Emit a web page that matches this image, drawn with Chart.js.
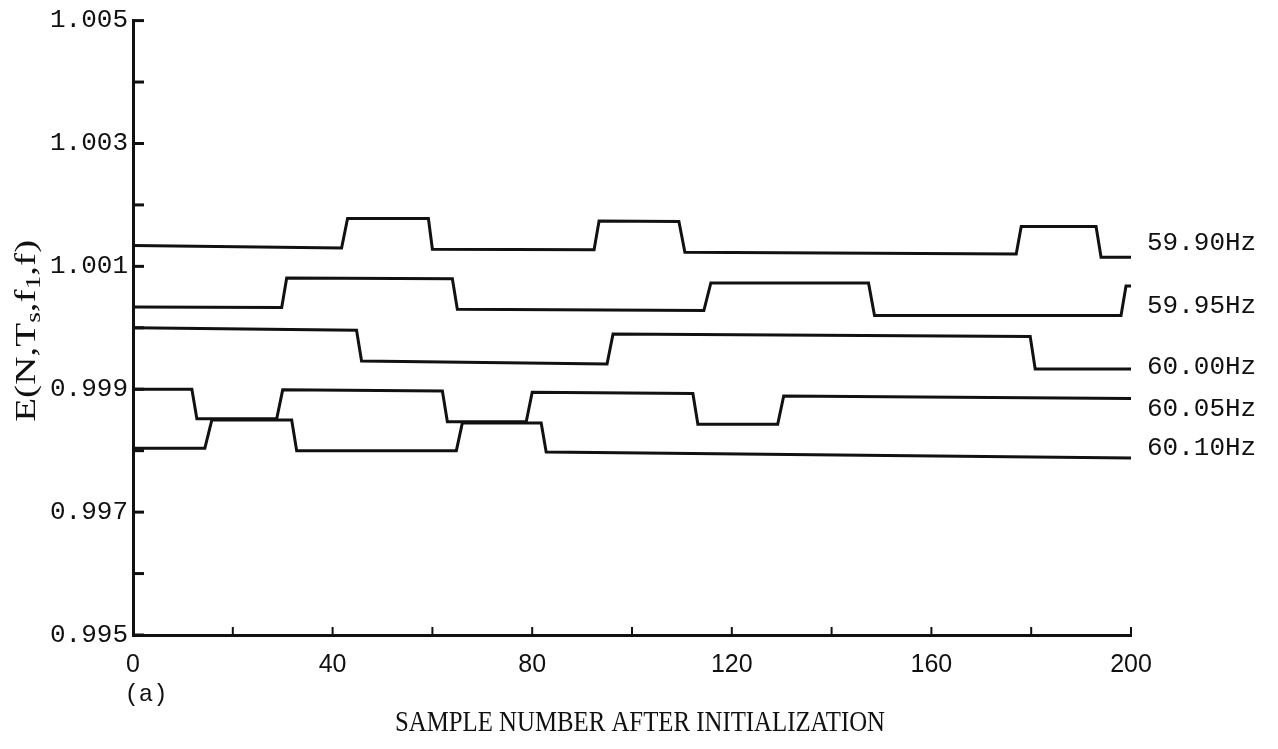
<!DOCTYPE html>
<html>
<head>
<meta charset="utf-8">
<script src="https://cdn.jsdelivr.net/npm/chart.js@4"></script>
<style>
  html, body { margin: 0; padding: 0; background: #fff; }
  #wrap { width: 1278px; height: 749px; }
</style>
</head>
<body>
<div id="wrap"><canvas id="errChart" width="1278" height="749"></canvas></div>
<script>
// sample numbers (x) and E values (y), corner by corner
var f5990X = [0, 41.8, 43, 59.2, 60, 92.4, 93.4, 109.4, 110.6, 177, 178, 193, 194, 200];
var f5990Y = [1.00134, 1.00130, 1.00178, 1.00178, 1.00128, 1.00127, 1.00174, 1.00173, 1.00123, 1.00120, 1.00165, 1.00165, 1.00115, 1.00115];

var f5995X = [0, 29.8, 30.8, 64, 65, 114.4, 115.8, 147.4, 148.6, 198, 199, 200];
var f5995Y = [1.00034, 1.00033, 1.00081, 1.00080, 1.00030, 1.00028, 1.00073, 1.00073, 1.00020, 1.00020, 1.00068, 1.00068];

var f6000X = [0, 44.8, 45.8, 95, 96.2, 179.8, 180.8, 200];
var f6000Y = [1.00000, 0.99996, 0.99946, 0.99941, 0.99990, 0.99986, 0.99933, 0.99933];

var f6005X = [0, 11.8, 12.8, 28.8, 30, 62, 63, 78.8, 80, 112.2, 113.2, 129.2, 130.4, 200];
var f6005Y = [0.99900, 0.99900, 0.99852, 0.99852, 0.99899, 0.99897, 0.99847, 0.99847, 0.99895, 0.99893, 0.99843, 0.99843, 0.99889, 0.99885];

var f6010X = [0, 14.4, 15.8, 31.8, 32.8, 64.8, 66, 81.8, 82.8, 200];
var f6010Y = [0.99804, 0.99804, 0.99850, 0.99850, 0.99800, 0.99800, 0.99845, 0.99845, 0.99798, 0.99788];

var seriesNames = ['59.90Hz', '59.95Hz', '60.00Hz', '60.05Hz', '60.10Hz'];
// where each name sits on the value axis, at the right end
var nameAt = [1.00138, 1.00036, 0.99936, 0.99867, 0.99804];

var yTickStep = 0.001;
var xTickStep = 20;

function pts(xs, ys) {
  return xs.map(function (x, i) { return { x: x, y: ys[i] }; });
}

function lineSet(name, xs, ys) {
  return {
    label: name,
    data: pts(xs, ys),
    borderColor: '#111',
    borderWidth: 3,
    pointRadius: 0,
    tension: 0,
    fill: false
  };
}

var ink = '#111';
var monoFont = '"Liberation Mono", "DejaVu Sans Mono", monospace';
var serifFont = '"Liberation Serif", "DejaVu Serif", serif';

// draw text squeezed/stretched to a given width
function fitText(ctx, txt, x, y, w) {
  var tw = ctx.measureText(txt).width;
  ctx.save();
  ctx.translate(x, y);
  ctx.scale(w / tw, 1);
  ctx.textAlign = 'center';
  ctx.fillText(txt, 0, 0);
  ctx.restore();
}

var extras = {
  id: 'extras',
  afterDraw: function (chart) {
    var ctx = chart.ctx;
    var xs = chart.scales.x, ys = chart.scales.y;
    var area = chart.chartArea;
    ctx.save();
    ctx.strokeStyle = ink;
    ctx.lineWidth = 3;

    // inward tick marks
    ys.ticks.forEach(function (t) {
      var py = ys.getPixelForValue(t.value);
      ctx.beginPath();
      ctx.moveTo(area.left, py);
      ctx.lineTo(area.left + 11, py);
      ctx.stroke();
    });
    ctx.lineWidth = 2;
    xs.ticks.forEach(function (t) {
      if (t.value === 0) return;
      var px = xs.getPixelForValue(t.value);
      ctx.beginPath();
      ctx.moveTo(px, area.bottom);
      ctx.lineTo(px, area.bottom - 8);
      ctx.stroke();
    });

    // series names at the right end
    ctx.fillStyle = ink;
    ctx.font = '26px ' + monoFont;
    ctx.textAlign = 'left';
    ctx.textBaseline = 'middle';
    seriesNames.forEach(function (n, i) {
      ctx.fillText(n, xs.getPixelForValue(200) + 16, ys.getPixelForValue(nameAt[i]));
    });

    // panel tag
    ctx.font = '24px ' + monoFont;
    ctx.textAlign = 'center';
    ctx.fillText('(a)', xs.getPixelForValue(0) + 13, 695);

    // x title
    ctx.font = '29px ' + serifFont;
    fitText(ctx, 'SAMPLE NUMBER AFTER INITIALIZATION', 640, 723, 490);

    // y title with subscripts, rotated
    ctx.translate(27, (area.top + area.bottom) / 2 + 3);
    ctx.rotate(-Math.PI / 2);
    var parts = [['E(N,T', 0], ['s', 1], [',f', 0], ['1', 1], [',f)', 0]];
    var big = '30px ' + serifFont, small = '21px ' + serifFont;
    var total = 0;
    parts.forEach(function (p) {
      ctx.font = p[1] ? small : big;
      total += ctx.measureText(p[0]).width;
    });
    var k = 182 / total;
    ctx.scale(k, 1);
    var cx = -total / 2;
    ctx.textAlign = 'left';
    parts.forEach(function (p) {
      ctx.font = p[1] ? small : big;
      ctx.fillText(p[0], cx, p[1] ? 7 : 0);
      cx += ctx.measureText(p[0]).width;
    });
    ctx.restore();
  }
};

var errChart = new Chart(document.getElementById('errChart'), {
  type: 'line',
  data: {
    datasets: [
      lineSet(seriesNames[0], f5990X, f5990Y),
      lineSet(seriesNames[1], f5995X, f5995Y),
      lineSet(seriesNames[2], f6000X, f6000Y),
      lineSet(seriesNames[3], f6005X, f6005Y),
      lineSet(seriesNames[4], f6010X, f6010Y)
    ]
  },
  options: {
    responsive: false,
    animation: false,
    layout: { padding: { left: 0, right: 147, top: 15, bottom: 0 } },
    plugins: {
      legend: { display: false },
      tooltip: { enabled: false }
    },
    scales: {
      x: {
        type: 'linear',
        min: 0,
        max: 200,
        grid: { display: false, drawTicks: false },
        border: { display: true, color: ink, width: 3 },
        ticks: {
          stepSize: xTickStep,
          autoSkip: false,
          maxRotation: 0,
          padding: 15,
          color: ink,
          font: { family: '"Liberation Sans Narrow", "Liberation Sans", sans-serif', size: 25 },
          callback: function (v) { return v % 40 === 0 ? String(v) : ''; }
        },
        afterFit: function (s) { s.height = 114; }
      },
      y: {
        min: 0.995,
        max: 1.005,
        grid: { display: false, drawTicks: false },
        border: { display: true, color: ink, width: 3 },
        ticks: {
          stepSize: yTickStep,
          autoSkip: false,
          padding: 5,
          color: ink,
          font: { family: monoFont, size: 26 },
          callback: function (v) {
            var k = Math.round(v * 1000);
            return k % 2 === 1 ? v.toFixed(3) : '';
          }
        },
        afterFit: function (s) { s.width = 133; }
      }
    }
  },
  plugins: [extras]
});
</script>
</body>
</html>
